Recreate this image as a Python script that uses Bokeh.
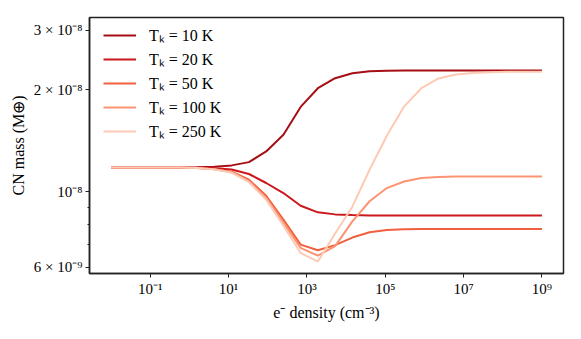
from bokeh.plotting import figure
from bokeh.models import FixedTicker, Legend, LegendItem, Range1d
from bokeh.embed import file_html
from bokeh.resources import INLINE

# electron density grid (log10 cm^-3)
density_exp = [-2.0, -1.56, -1.12, -0.68, -0.24, 0.2, 0.64, 1.08, 1.52, 1.96,
               2.4, 2.84, 3.28, 3.72, 4.16, 4.6, 5.04, 5.48, 5.92, 6.36,
               6.8, 7.24, 7.68, 8.12, 8.56, 9.0]
density = [10 ** e for e in density_exp]

# CN mass in units of 1e-8 M_earth
mass_10K = [1.18, 1.18, 1.18, 1.18, 1.18, 1.182, 1.187, 1.198, 1.225, 1.317,
            1.475, 1.782, 2.023, 2.165, 2.24, 2.27, 2.278, 2.28, 2.28, 2.28,
            2.28, 2.28, 2.28, 2.28, 2.28, 2.28]
mass_20K = [1.18, 1.18, 1.18, 1.18, 1.18, 1.178, 1.175, 1.165, 1.13, 1.063,
            0.993, 0.911, 0.871, 0.859, 0.855, 0.852, 0.852, 0.852, 0.852, 0.852,
            0.852, 0.852, 0.852, 0.852, 0.852, 0.852]
mass_50K = [1.18, 1.18, 1.18, 1.18, 1.18, 1.177, 1.168, 1.148, 1.087, 0.975,
            0.829, 0.6995, 0.673, 0.697, 0.734, 0.761, 0.773, 0.777, 0.778, 0.778,
            0.778, 0.778, 0.778, 0.778, 0.778, 0.778]
mass_100K = [1.18, 1.18, 1.18, 1.18, 1.18, 1.177, 1.167, 1.143, 1.076, 0.962,
             0.812, 0.684, 0.649, 0.6926, 0.819, 0.939, 1.027, 1.074, 1.099, 1.107,
             1.111, 1.111, 1.111, 1.111, 1.111, 1.111]
mass_250K = [1.18, 1.18, 1.18, 1.18, 1.18, 1.177, 1.166, 1.14, 1.069, 0.949,
             0.796, 0.661, 0.6235, 0.754, 0.905, 1.163, 1.465, 1.786, 2.023, 2.162,
             2.222, 2.245, 2.256, 2.263, 2.263, 2.263]

series_labels = ["Tₖ = 10 K", "Tₖ = 20 K", "Tₖ = 50 K", "Tₖ = 100 K", "Tₖ = 250 K"]
series_values = [mass_10K, mass_20K, mass_50K, mass_100K, mass_250K]
series_colors = ["#a50f15", "#cb181d", "#f0603f", "#fc9474", "#fdcab5"]

x_ticks = [1e-1, 1e1, 1e3, 1e5, 1e7, 1e9]
x_tick_labels = ["10⁻¹", "10¹", "10³", "10⁵", "10⁷", "10⁹"]
y_ticks = [6e-9, 1e-8, 2e-8, 3e-8]
y_tick_labels = ["6 × 10⁻⁹", "10⁻⁸", "2 × 10⁻⁸", "3 × 10⁻⁸"]
y_minor = [7e-9, 8e-9, 9e-9]

SERIF = "Liberation Serif"

p = figure(width=565, height=323, x_axis_type="log", y_axis_type="log",
           x_range=Range1d(10 ** -2.55, 10 ** 9.55),
           y_range=Range1d(5.75e-9, 3.27e-8),
           output_backend="svg", toolbar_location=None,
           min_border_left=89, min_border_right=2,
           min_border_top=17, min_border_bottom=49)

p.xgrid.visible = False
p.ygrid.visible = False
p.outline_line_color = "#222222"
p.outline_line_width = 1.5
p.background_fill_color = "white"
p.border_fill_color = "white"

renderers = []
for vals, col in zip(series_values, series_colors):
    r = p.line(density, [v * 1e-8 for v in vals], line_color=col, line_width=2)
    renderers.append(r)

legend = Legend(items=[LegendItem(label=lab, renderers=[r])
                       for lab, r in zip(series_labels, renderers)],
                location=(14, 131))
legend.border_line_color = None
legend.background_fill_alpha = 0
legend.padding = 0
legend.margin = 0
legend.spacing = 2
legend.glyph_height = 20
legend.glyph_width = 33
legend.label_height = 20
legend.label_standoff = 13
legend.label_text_font = SERIF
legend.label_text_font_size = "16px"
legend.label_text_color = "black"
p.add_layout(legend)

xa = p.xaxis[0]
xa.ticker = FixedTicker(ticks=x_ticks, minor_ticks=[])
xa.major_label_overrides = {t: l for t, l in zip(x_ticks, x_tick_labels)}
xa.axis_label = "e⁻ density (cm⁻³)"

ya = p.yaxis[0]
ya.ticker = FixedTicker(ticks=y_ticks, minor_ticks=y_minor)
ya.major_label_overrides = {t: l for t, l in zip(y_ticks, y_tick_labels)}
ya.axis_label = "CN mass (M⊕)"

for ax in (xa, ya):
    ax.axis_line_color = "#222222"
    ax.axis_line_width = 1.5
    ax.major_tick_in = 0
    ax.major_tick_out = 4
    ax.minor_tick_in = 0
    ax.minor_tick_out = 2
    ax.major_tick_line_color = "#222222"
    ax.minor_tick_line_color = "#222222"
    ax.major_label_text_font = SERIF
    ax.major_label_text_font_size = "15px"
    ax.major_label_text_color = "black"
    ax.major_label_standoff = 3
    ax.axis_label_text_font = SERIF
    ax.axis_label_text_font_size = "16px"
    ax.axis_label_text_font_style = "normal"
    ax.axis_label_text_color = "black"
    ax.axis_label_standoff = 4

open("out.html", "w").write(file_html(p, INLINE))
